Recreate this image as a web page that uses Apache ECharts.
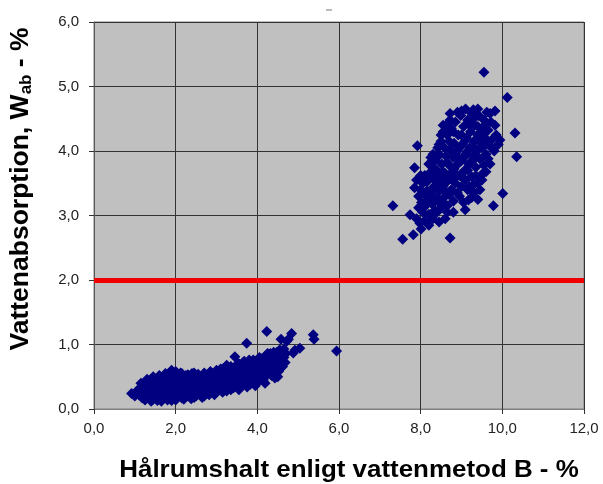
<!DOCTYPE html>
<html>
<head>
<meta charset="utf-8">
<script src="https://cdn.jsdelivr.net/npm/echarts@6/dist/echarts.min.js"></script>
<style>html,body{margin:0;padding:0;background:#fff;overflow:hidden;}#c{width:603px;height:484px;}</style>
</head>
<body>
<div id="c"></div>
<script>
var xTicks = [0, 2, 4, 6, 8, 10, 12];
var yTicks = [0, 1, 2, 3, 4, 5, 6];
var limitValue = 2.0;
var xTitle = 'Hålrumshalt enligt vattenmetod B - %';
var yTitleMain = 'Vattenabsorption, W';
var yTitleSub = 'ab';
var yTitleEnd = ' - %';

var lowCluster = [
[0.92,0.24],[1.0,0.20],[1.05,0.28],[1.1,0.22],[1.12,0.32],[1.18,0.17],[1.2,0.26],[1.22,0.36],
[1.25,0.14],[1.28,0.21],[1.3,0.30],[1.32,0.40],[1.35,0.18],[1.38,0.26],[1.4,0.34],[1.42,0.44],[1.45,0.15],[1.48,0.22],[1.5,0.30],[1.5,0.38],
[1.55,0.13],[1.55,0.42],[1.58,0.20],[1.6,0.27],[1.62,0.35],[1.65,0.47],[1.68,0.16],[1.7,0.24],[1.72,0.31],[1.75,0.39],[1.78,0.44],[1.8,0.14],[1.82,0.21],[1.85,0.28],[1.85,0.50],[1.88,0.36],[1.9,0.60],[1.92,0.18],[1.95,0.25],[1.97,0.33],[1.98,0.42],[2.0,0.52],[2.0,0.14],
[2.05,0.22],[2.05,0.48],[2.08,0.30],[2.1,0.38],[2.12,0.56],[2.15,0.17],[2.18,0.26],[2.2,0.44],[2.22,0.34],[2.25,0.52],[2.28,0.20],[2.3,0.29],[2.32,0.40],[2.35,0.49],[2.38,0.16],[2.4,0.24],[2.42,0.33],[2.45,0.56],[2.48,0.42],[2.5,0.20],
[2.52,0.30],[2.55,0.50],[2.58,0.37],[2.6,0.25],[2.62,0.45],[2.65,0.18],[2.68,0.33],[2.7,0.54],[2.72,0.41],[2.75,0.26],[2.78,0.48],[2.8,0.36],[2.82,0.22],[2.85,0.44],[2.88,0.55],[2.9,0.31],[2.92,0.40],[2.95,0.27],[2.98,0.50],[3.0,0.36],
[3.02,0.58],[3.05,0.44],[3.08,0.30],[3.1,0.52],[3.12,0.38],[3.15,0.62],[3.18,0.46],[3.2,0.34],[3.22,0.56],[3.25,0.68],[3.25,0.28],[3.28,0.42],[3.3,0.50],[3.32,0.60],[3.35,0.37],[3.38,0.54],[3.4,0.45],[3.42,0.33],[3.45,0.81],[3.45,0.62],[3.48,0.50],
[3.5,0.40],[3.52,0.70],[3.55,0.56],[3.58,0.35],[3.6,0.46],[3.62,0.64],[3.65,0.52],[3.68,0.74],[3.7,0.40],[3.72,0.58],[3.74,1.02],[3.75,0.48],[3.78,0.66],[3.8,0.76],[3.82,0.38],[3.85,0.55],[3.88,0.70],[3.9,0.46],[3.92,0.60],[3.95,0.66],[3.98,0.40],
[4.0,0.54],[4.02,0.72],[4.05,0.62],[4.08,0.46],[4.1,0.78],[4.12,0.58],[4.15,0.68],[4.19,0.40],[4.2,0.82],[4.22,0.52],[4.23,1.20],[4.25,0.64],[4.28,0.74],[4.3,0.56],[4.32,0.86],[4.35,0.70],[4.38,0.60],[4.4,0.80],[4.43,0.48],[4.45,0.66],[4.48,0.88],[4.5,0.74],[4.52,0.58],[4.55,0.84],[4.58,1.08],[4.6,0.73],[4.6,0.89],[4.62,0.66],[4.65,0.93],
[4.7,0.86],[4.72,1.05],[4.76,1.08],[4.84,1.17],[4.88,0.87],[4.92,0.91],[5.04,0.94],[5.37,1.15],[5.39,1.08],[5.94,0.90],
[1.15,0.40],[1.3,0.46],[1.45,0.50],[1.6,0.52],[1.75,0.55],[1.9,0.48],[2.0,0.58],[2.15,0.55],[2.3,0.53],[2.4,0.55],[2.55,0.54],[2.7,0.56],[2.85,0.58],[3.0,0.60],[3.1,0.62],[3.2,0.64],[3.35,0.66],[3.55,0.70],[3.65,0.72],[3.9,0.76],[4.05,0.80],[4.25,0.86],[4.4,0.88],[4.55,0.92],
[1.4,0.12],[1.65,0.12],[1.9,0.13],[2.2,0.15],[2.45,0.18],[2.7,0.20],[2.95,0.22],[3.15,0.26],[3.35,0.30],[3.55,0.30],[3.75,0.34],[3.95,0.36],[4.15,0.45],[4.35,0.52],[4.5,0.50],
[1.25,0.28],[1.55,0.32],[1.78,0.28],[2.02,0.38],[2.25,0.42],[2.5,0.36],[2.75,0.40],[3.0,0.46],[3.25,0.48],[3.5,0.50],[3.7,0.55],[3.9,0.58],[4.1,0.62],[4.3,0.66],[4.45,0.74],[4.65,0.80],[4.68,0.72],[4.55,0.62]
];

var highCluster = [
[7.32,3.15],[7.56,2.63],[7.74,3.01],[7.82,2.70],[7.85,3.43],[7.85,3.74],[7.92,4.08],[7.9,2.95],[7.95,3.12],[7.98,2.88],[8.01,2.79],[8.02,3.20],[8.05,3.05],[8.08,3.35],[8.1,2.92],
[8.12,3.15],[8.15,3.52],[8.18,3.28],[8.2,3.02],[8.22,3.66],[8.25,3.40],[8.28,3.18],[8.3,3.58],[8.32,3.30],[8.35,3.85],[8.35,3.08],[8.38,3.48],[8.4,3.70],[8.42,3.22],[8.45,3.95],[8.45,3.38],[8.48,3.60],[8.5,3.12],[8.5,4.15],
[8.52,3.80],[8.55,3.45],[8.58,4.05],[8.6,3.30],[8.6,3.65],[8.62,3.92],[8.65,4.25],[8.65,3.15],[8.68,3.55],[8.7,3.78],[8.72,4.58],[8.72,2.65],[8.72,4.02],[8.75,3.40],[8.75,4.35],[8.78,3.68],[8.8,3.90],[8.8,3.22],[8.82,4.12],[8.85,3.50],[8.85,4.45],[8.88,3.78],[8.9,4.00],[8.9,3.35],
[8.92,4.25],[8.95,3.62],[8.98,4.55],[9.0,3.85],[9.0,3.45],[9.02,4.10],[9.05,4.38],[9.08,3.70],[9.09,3.09],[9.1,3.95],[9.12,4.20],[9.15,4.48],[9.17,3.24],[9.18,3.80],[9.2,4.05],[9.22,4.30],[9.25,3.60],[9.25,4.58],[9.28,3.92],[9.29,4.64],[9.3,4.15],
[9.32,4.40],[9.35,3.75],[9.38,4.00],[9.4,4.25],[9.42,4.55],[9.45,3.88],[9.48,4.12],[9.5,4.35],[9.52,3.65],[9.55,4.48],[9.58,4.20],[9.6,3.95],[9.62,4.60],[9.65,4.32],[9.68,4.08],[9.7,3.80],[9.72,4.45],[9.75,4.18],[9.78,3.15],[9.8,4.00],[9.82,4.40],[9.82,4.62],[9.85,4.25],[9.9,4.10],[9.94,4.17],[10.01,3.34],
[9.55,5.22],[10.12,4.83],[10.31,4.28],[10.35,3.91],
[8.3,3.42],[8.4,3.55],[8.45,3.25],[8.55,3.68],[8.6,3.50],[8.65,3.82],[8.7,3.32],[8.7,4.15],[8.75,3.58],[8.8,4.30],[8.82,3.72],[8.85,3.95],[8.9,3.62],[8.92,3.88],[8.95,4.05],[9.0,3.60],[9.0,4.25],[9.05,3.90],[9.08,4.15],[9.1,3.55],[9.15,4.00],[9.15,3.70],[9.2,4.40],[9.25,3.85],[9.3,4.50],[9.32,4.05],[9.35,3.90],[9.4,4.38],[9.45,4.20],[9.5,4.05],[9.55,4.30],[9.6,4.42],[9.62,4.15],[8.58,3.38],[8.5,3.55],[8.35,3.62],[8.25,3.25],[8.15,3.38],[8.4,3.05],[8.55,3.20],[8.65,3.05],[8.95,3.30],[9.05,3.20],[8.0,3.40],[8.1,3.62],
[9.2,3.45],[9.3,3.35],[9.4,3.50],[9.35,3.62],[9.45,3.40],[9.25,3.28],[9.5,3.55],[9.15,3.40],[9.4,3.25],[9.55,3.78],[9.6,3.68],[9.65,3.88],[9.3,3.48],
[8.42,4.05],[8.5,4.25],[8.55,4.40],[8.45,4.10],[8.55,4.30],[8.62,4.40],[8.72,4.48],[8.25,3.90],[8.2,3.80],[8.3,3.75],[8.3,3.95],[8.4,3.90],
[7.9,3.55],[7.95,3.30],[8.05,3.50],[8.0,3.62],[8.1,3.20],
[8.3,2.95],[8.45,2.90],[8.6,2.95],[8.8,3.05],[8.2,2.85],
[9.0,4.62],[9.1,4.65],[8.9,4.60],[9.4,4.65],[9.7,4.58]
];

function fmt(v){ return v.toFixed(1).replace('.', ','); }

var chart = echarts.init(document.getElementById('c'), null, {renderer:'canvas'});
chart.setOption({
  animation: false,
  grid: {left: 94, width: 490, top: 22, height: 387, show: true, backgroundColor: '#c0c0c0', borderColor: '#808080', borderWidth: 1},
  xAxis: {
    type: 'value', min: xTicks[0], max: xTicks[xTicks.length-1], interval: 2,
    axisLine: {show: true, lineStyle: {color: '#808080', width: 1}},
    axisTick: {show: true, length: 5, lineStyle: {color: '#333'}},
    axisLabel: {formatter: fmt, fontFamily: 'Liberation Sans, Arial', fontSize: 15, color: '#222', margin: 12},
    splitLine: {show: true, lineStyle: {color: '#333', width: 1}}
  },
  yAxis: {
    type: 'value', min: yTicks[0], max: yTicks[yTicks.length-1], interval: 1,
    axisLine: {show: true, lineStyle: {color: '#555', width: 1}},
    axisTick: {show: true, length: 5, lineStyle: {color: '#333'}},
    axisLabel: {formatter: fmt, fontFamily: 'Liberation Sans, Arial', fontSize: 15, color: '#222', margin: 15},
    splitLine: {show: true, lineStyle: {color: '#333', width: 1}}
  },
  graphic: [
    {type: 'text', x: 21, y: 189, rotation: Math.PI/2, scaleX: 1.06, style: {
      text: '{a|' + yTitleMain + '}{s|' + yTitleSub + '}{a|' + yTitleEnd + '}',
      align: 'center', verticalAlign: 'middle',
      rich: {
        a: {fontFamily: 'Liberation Sans, Arial', fontWeight: 'bold', fontSize: 25, fill: '#000'},
        s: {fontFamily: 'Liberation Sans, Arial', fontWeight: 'bold', fontSize: 16, fill: '#000', padding: [12,0,0,0]}
      }
    }},
    {type: 'text', x: 349, y: 470, scaleX: 1.08, style: {
      text: xTitle, align: 'center', verticalAlign: 'middle',
      fontFamily: 'Liberation Sans, Arial', fontWeight: 'bold', fontSize: 24, fill: '#000'
    }},
    {type: 'line', shape: {x1: 326, y1: 10, x2: 332, y2: 10}, style: {stroke: '#777', lineWidth: 1}}
  ],
  series: [
    {type: 'scatter', data: lowCluster, symbol: 'diamond', symbolSize: 11, itemStyle: {color: '#000080', opacity: 1},
     markLine: {silent: true, symbol: ['none','none'], label: {show: false}, lineStyle: {color: '#f00000', width: 5, type: 'solid'}, data: [{yAxis: limitValue}]}},
    {type: 'scatter', data: highCluster, symbol: 'diamond', symbolSize: 11, itemStyle: {color: '#000080', opacity: 1}}
  ]
});
</script>
</body>
</html>
